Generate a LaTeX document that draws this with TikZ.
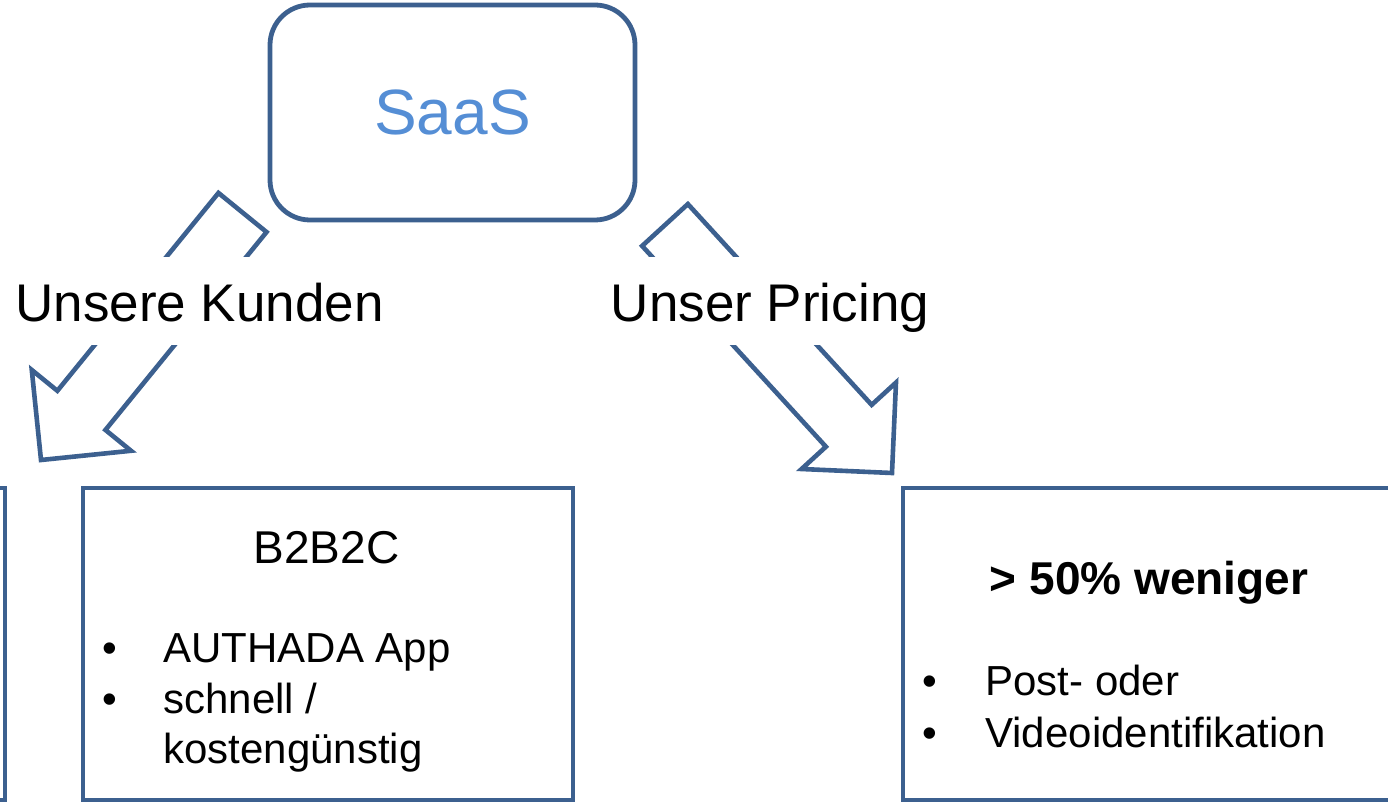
\documentclass[tikz,border=0pt]{standalone}
\usepackage{fontspec}
\setmainfont{Liberation Sans}
\usetikzlibrary{calc,%
                positioning}
\definecolor{rahmen}{RGB}{60,96,143}
\definecolor{saasblau}{RGB}{85,142,213}

\begin{document}
\begin{tikzpicture}[x=0.5pt,y=-0.5pt]
  \tikzset{kasten/.style = {draw=rahmen, line width=2.4pt, rectangle, inner sep=0pt}}
  \tikzset{blockpfeil/.style = {draw=rahmen, line width=2.3pt, line join=miter}}
  \tikzset{marke/.style = {fill=white, inner sep=0pt, anchor=base,
            text height=32.5pt, text depth=11.5pt, font=\fontsize{26.5}{30}\selectfont}}
  \tikzset{zeile/.style = {anchor=base west, inner sep=0pt, font=\fontsize{21}{25}\selectfont}}
  \tikzset{punkt/.style = {anchor=base, inner sep=0pt, font=\fontsize{21}{25}\selectfont}}
  \useasboundingbox (0,0) rectangle (1388,802);
  \clip (0,0) rectangle (1388,802);

  \node[kasten, rounded corners=20pt, minimum width=182.5pt, minimum height=107.5pt,
        text=saasblau, font=\fontsize{32}{36}\selectfont] (saas) at (452.5,112.5) {SaaS};

  % Kaesten unten
  \node[kasten, minimum width=245pt, minimum height=156pt] (privat) at (-240,644) {};
  \node[kasten, minimum width=245pt, minimum height=156pt] (b2b2c) at (328,644) {};
  \node[kasten, minimum width=246pt, minimum height=156pt] (preis) at (1149,644) {};

  % Pfeile
  \coordinate (kA) at (242.5,212.5);
  \coordinate (kB) at (41,460);
  \coordinate (kS) at ($(kB)!32pt!(kA)$);
  \draw[blockpfeil] ($(kA)!15.5pt!90:(kB)$) -- ($(kS)!15.5pt!-90:(kA)$)
    -- ($(kS)!32pt!-90:(kA)$) -- (kB) -- ($(kS)!32pt!90:(kA)$)
    -- ($(kS)!15.5pt!90:(kA)$) -- ($(kA)!15.5pt!-90:(kB)$) -- cycle;
  \coordinate (pA) at (665,225);
  \coordinate (pB) at (892,473);
  \coordinate (pS) at ($(pB)!32pt!(pA)$);
  \draw[blockpfeil] ($(pA)!15.5pt!90:(pB)$) -- ($(pS)!15.5pt!-90:(pA)$)
    -- ($(pS)!32pt!-90:(pA)$) -- (pB) -- ($(pS)!32pt!90:(pA)$)
    -- ($(pS)!15.5pt!90:(pA)$) -- ($(pA)!15.5pt!-90:(pB)$) -- cycle;

  \node[marke] (kunden) at (199.5,322) {Unsere Kunden};
  \node[marke] (pricing) at (770,322) {Unser Pricing};

  % Text B2B2C
  \node[anchor=base, inner sep=0pt, font=\fontsize{23}{27}\selectfont] (b2b2ctitel) at (326.5,563) {B2B2C};
  \node[punkt] (bp1) at (110,662) {\textbullet};
  \node[punkt] (bp2) at (110,713) {\textbullet};
  \node[zeile] (app) at (163,662) {AUTHADA App};
  \node[zeile] (schnell) at (163,713) {schnell /};
  \node[zeile] (kosten) at (163,763) {kostengünstig};

  % Text Pricing
  \node[anchor=base, inner sep=0pt, font=\fontsize{23}{27}\selectfont\bfseries] (weniger) at (1149,594) {> 50\% weniger};
  \node[punkt] (pp1) at (930,695) {\textbullet};
  \node[punkt] (pp2) at (930,747) {\textbullet};
  \node[zeile] (post) at (985,695) {Post- oder};
  \node[zeile] (video) at (985,747) {Videoidentifikation};
\end{tikzpicture}
\end{document}
